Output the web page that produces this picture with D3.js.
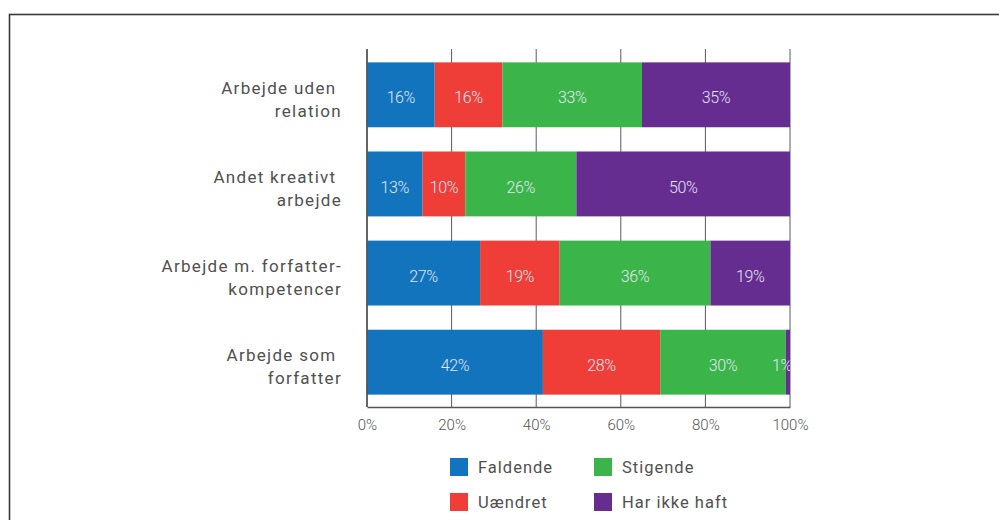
<!DOCTYPE html>
<html>
<head>
<meta charset="utf-8">
<script src="https://cdn.jsdelivr.net/npm/d3@7"></script>
<style>
  body { margin: 0; background: #fff; }
  svg { display: block; font-family: Roboto, "DejaVu Sans", sans-serif; }
  .cat { white-space: pre; }
</style>
</head>
<body>
<div id="chart"></div>
<script>
// data
const categories = [
  ['Arbejde uden ', 'relation'],
  ['Andet kreativt ', 'arbejde'],
  ['Arbejde m. forfatter-', 'kompetencer'],
  ['Arbejde som ', 'forfatter']
]
const series = ['Faldende', 'Uændret', 'Stigende', 'Har ikke haft']
const faldende = [16, 13, 27, 42]
const uaendret = [16, 10, 19, 28]
const stigende = [33, 26, 36, 30]
const harIkkeHaft = [35, 50, 19, 1]
const xTicks = [0, 0.2, 0.4, 0.6, 0.8, 1]

const colors = ['#1174bd', '#ee3e37', '#3bb54a', '#652d90']
const width = 999
const height = 520
const plot = { left: 367, right: 790, top: 49, bottom: 407 }

const rows = categories.map((c, i) => ({
  key: i,
  Faldende: faldende[i],
  'Uændret': uaendret[i],
  Stigende: stigende[i],
  'Har ikke haft': harIkkeHaft[i]
}))

// values are shares of each row, so stack them to 100%
const stacked = d3.stack().keys(series).offset(d3.stackOffsetExpand)(rows)

const svg = d3.select('#chart').append('svg')
  .attr('width', width)
  .attr('height', height)

// frame (runs off the right and bottom edge)
svg.append('rect')
  .attr('x', 9.5).attr('y', 14.5)
  .attr('width', 1010).attr('height', 520)
  .attr('fill', 'none')
  .attr('stroke', '#3a3a3a')
  .attr('stroke-width', 1.6)

const x = d3.scaleLinear().domain([0, 1]).range([plot.left, plot.right])
const y = d3.scaleBand()
  .domain(d3.range(categories.length))
  .range([plot.top, plot.bottom + 1])
  .paddingInner(0.272)
  .paddingOuter(0.15)

// gridlines
svg.append('g')
  .selectAll('line')
  .data(xTicks.slice(1))
  .join('line')
  .attr('x1', d => x(d)).attr('x2', d => x(d))
  .attr('y1', plot.top).attr('y2', plot.bottom)
  .attr('stroke', '#5a5a5a')
  .attr('stroke-width', 1)

// bars
const layer = svg.append('g')
  .selectAll('g')
  .data(stacked)
  .join('g')
  .attr('fill', (d, i) => colors[i])

layer.selectAll('rect')
  .data(d => d)
  .join('rect')
  .attr('x', d => x(d[0]))
  .attr('width', d => x(d[1]) - x(d[0]))
  .attr('y', d => y(d.data.key))
  .attr('height', y.bandwidth())

// value labels
svg.append('defs').append('clipPath').attr('id', 'plotclip')
  .append('rect')
  .attr('x', x(0)).attr('y', plot.top)
  .attr('width', x(1) - x(0)).attr('height', plot.bottom - plot.top)

const labels = svg.append('g').attr('clip-path', 'url(#plotclip)')
stacked.forEach(s => {
  labels.selectAll(null)
    .data(s)
    .join('text')
    .attr('x', d => Math.min((x(d[0]) + x(d[1])) / 2, x(1) - 8))
    .attr('y', d => y(d.data.key) + y.bandwidth() / 2 + 3)
    .attr('dy', '0.35em')
    .attr('text-anchor', 'middle')
    .attr('fill', '#e3e6f6')
    .attr('font-size', 16)
    .attr('font-weight', 300)
    .attr('letter-spacing', -0.4)
    .text(d => d.data[s.key] + '%')
})

// x axis
const xAxis = svg.append('g')
  .attr('transform', `translate(0,${plot.bottom})`)
  .call(d3.axisBottom(x).tickValues(xTicks).tickFormat(d3.format('.0%')).tickSize(0).tickPadding(12))
xAxis.select('.domain').attr('stroke', '#555').attr('stroke-width', 1.5)
xAxis.selectAll('text')
  .attr('fill', '#555')
  .attr('font-size', 15)
  .attr('font-family', 'Roboto, sans-serif')
  .attr('font-weight', 300)

// y axis line
svg.append('line')
  .attr('x1', x(0)).attr('x2', x(0))
  .attr('y1', plot.top).attr('y2', plot.bottom)
  .attr('stroke', '#555')
  .attr('stroke-width', 1.8)

// category labels
const cat = svg.append('g')
  .selectAll('text')
  .data(categories)
  .join('text')
  .attr('class', 'cat')
  .attr('text-anchor', 'end')
  .attr('fill', '#505050')
  .attr('font-size', 17)
  .attr('letter-spacing', 1.3)
  .attr('y', (d, i) => y(i) + y.bandwidth() / 2)

cat.selectAll('tspan')
  .data(d => d)
  .join('tspan')
  .attr('x', 342)
  .attr('dy', (d, i) => i === 0 ? -1 : 23)
  .text(d => d)

// legend, two columns
const legend = svg.append('g')
  .selectAll('g')
  .data(series)
  .join('g')
  .attr('transform', (d, i) => `translate(${450 + Math.floor(i / 2) * 144},${458 + (i % 2) * 35})`)

legend.append('rect')
  .attr('width', 18).attr('height', 18)
  .attr('fill', (d, i) => colors[i])

legend.append('text')
  .attr('x', 28).attr('y', 9)
  .attr('dy', '0.35em')
  .attr('fill', '#505050')
  .attr('font-size', 16.5)
  .attr('letter-spacing', 1)
  .text(d => d)
</script>
</body>
</html>
